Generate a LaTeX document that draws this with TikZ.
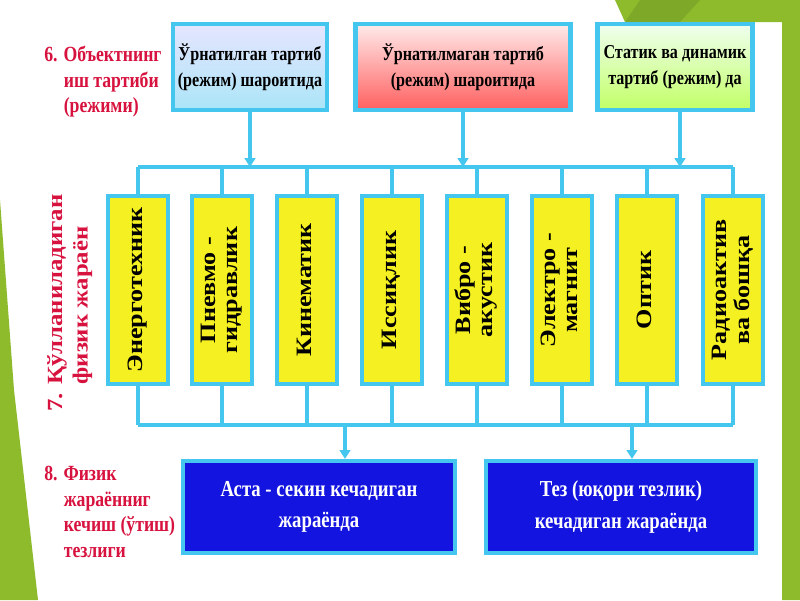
\documentclass[tikz,border=0pt]{standalone}
\usepackage{fontspec}
\setmainfont{Liberation Serif}[FakeStretch=0.82]
\usetikzlibrary{arrows.meta}
\definecolor{cy}{HTML}{45C6EE}
\definecolor{rd}{HTML}{D8123E}
\definecolor{gr}{HTML}{8DBB2C}
\definecolor{yl}{HTML}{F4F022}
\definecolor{bl}{HTML}{1414E0}
\begin{document}
\begin{tikzpicture}[x=0.02cm,y=-0.02cm,
 top/.style={draw=cy,line width=2.4pt,minimum width=#1*0.02cm,minimum height=86*0.02cm,align=center,font=\bfseries\fontsize{11.2}{15}\selectfont,inner sep=0pt},
 yb/.style={draw=cy,line width=2.2pt,fill=yl,minimum width=60*0.02cm,minimum height=188*0.02cm,inner sep=0pt},
 ytxt/.style={rotate=90,align=center,font=\bfseries\fontsize{12.5}{13}\selectfont},
 bb/.style={draw=cy,line width=2.4pt,fill=bl,text=white,minimum width=#1*0.02cm,minimum height=92*0.02cm,align=center,font=\bfseries\fontsize{13}{18}\selectfont,inner sep=0pt},
 ln/.style={cy,line width=2.2pt},
 ar/.style={ln,-{Triangle[width=6pt,length=5pt]}},
 lab/.style={text=rd,font=\bfseries\fontsize{12.3}{14.5}\selectfont,align=left,inner sep=0pt}]
\useasboundingbox (0,0) rectangle (800,600);
\fill[white] (0,0) rectangle (800,600);
\fill[gr] (615,0)--(800,0)--(800,600)--(782,600)--(782,22)--(625,22)--cycle;
\fill[gr!80!black,opacity=0.5] (640,0)--(700,0)--(680,22)--(625,22)--cycle;
\fill[gr] (0,200)--(14,390)--(38,600)--(0,600)--cycle;

\node[top=154,top color=blue!10,bottom color=cy!45] (t1) at (250,67) {Ўрнатилган тартиб\\(режим) шароитида};
\node[top=215,top color=red!8,bottom color=red!50!pink] (t2) at (463,67) {Ўрнатилмаган тартиб\\(режим) шароитида};
\node[top=155,top color=green!6,bottom color=green!40!yellow!60] (t3) at (675,67) {Статик ва динамик\\тартиб (режим) да};

\foreach \i/\x/\t in {1/138/Энерготехник,2/222/{Пневмо -\\гидравлик},3/307/Кинематик,4/392/Иссиқлик,5/477/{Вибро -\\акустик},6/562/{Электро -\\магнит},7/647/Оптик,8/733/{Радиоактив\\ва бошқа}}{
 \node[yb] (y\i) at (\x,290) {};
 \node[ytxt] at (y\i) {\scalebox{1.45}[1]{\begin{tabular}{@{}c@{}}\t\end{tabular}}};
 \coordinate (u\i) at (\x,167);
 \coordinate (d\i) at (\x,425);
 \draw[ln] (u\i) -- (y\i.north);
 \draw[ln] (y\i.south) -- (d\i);
}
\draw[ln] (u1) -- (u8);
\draw[ln] (d1) -- (d8);
\coordinate (a1) at (250,167);
\coordinate (a2) at (463,167);
\coordinate (a3) at (680,167);
\draw[ar] (t1.south) -- (a1);
\draw[ar] (t2.south) -- (a2);
\draw[ar] (t3.south-|a3) -- (a3);

\node[bb=272] (b1) at (319,507) {Аста - секин кечадиган\\жараёнда};
\node[bb=270] (b2) at (621,507) {Тез (юқори тезлик)\\кечадиган жараёнда};
\coordinate (c1) at (345,425);
\coordinate (c2) at (632,425);
\draw[ar] (c1) -- (c1|-b1.north);
\draw[ar] (c2) -- (c2|-b2.north);

\node[lab,anchor=north west] (l6) at (44,46) {6. Объектнинг\\\hspace*{0.9em}иш тартиби\\\hspace*{0.9em}(режими)};
\node[lab,rotate=90,anchor=north west,font=\bfseries\fontsize{12.3}{14.5}\selectfont] (l7) at (44,412) {\scalebox{1.4}[1]{\begin{tabular}{@{}l@{}}7. Қўлланиладиган\\\hspace*{0.9em}физик жараён\end{tabular}}};
\node[lab,anchor=north west] (l8) at (44,466) {8. Физик\\\hspace*{0.9em}жараённиг\\\hspace*{0.9em}кечиш (ўтиш)\\\hspace*{0.9em}тезлиги};
\end{tikzpicture}
\end{document}
